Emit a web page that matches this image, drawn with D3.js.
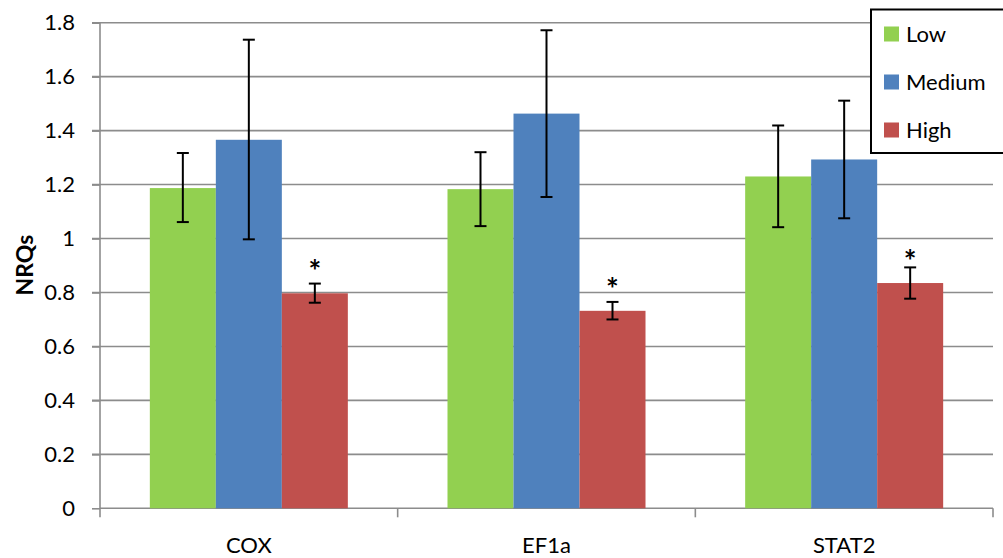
<!DOCTYPE html>
<html><head><meta charset="utf-8">
<script src="https://cdn.jsdelivr.net/npm/d3@7/dist/d3.min.js"></script>
<style>body{margin:0;background:#fff;}svg{display:block;font-family:Lato,"Open Sans",sans-serif;}</style>
</head><body>
<svg id="c" width="1003" height="558"></svg>
<script>
const categories = ["COX", "EF1a", "STAT2"];
const seriesNames = ["Low", "Medium", "High"];
const seriesColors = ["#92D050", "#4F81BD", "#C0504D"];
const lowValues = [1.187, 1.183, 1.230];
const lowErrUp = [1.317, 1.320, 1.419];
const lowErrDown = [1.061, 1.046, 1.042];
const mediumValues = [1.366, 1.463, 1.293];
const mediumErrUp = [1.737, 1.772, 1.511];
const mediumErrDown = [0.997, 1.154, 1.075];
const highValues = [0.797, 0.732, 0.835];
const highErrUp = [0.833, 0.765, 0.893];
const highErrDown = [0.762, 0.700, 0.777];
const significant = [true, true, true];
const yTicks = [0, 0.2, 0.4, 0.6, 0.8, 1, 1.2, 1.4, 1.6, 1.8];
const yTickLabels = ["0", "0.2", "0.4", "0.6", "0.8", "1", "1.2", "1.4", "1.6", "1.8"];

const series = [
  {name: seriesNames[0], color: seriesColors[0], v: lowValues, up: lowErrUp, dn: lowErrDown},
  {name: seriesNames[1], color: seriesColors[1], v: mediumValues, up: mediumErrUp, dn: mediumErrDown},
  {name: seriesNames[2], color: seriesColors[2], v: highValues, up: highErrUp, dn: highErrDown}
];

const svg = d3.select("#c");
const L = 100, R = 993, T = 22.7, B = 508.3;
const y = d3.scaleLinear().domain([0, 1.8]).range([B, T]);
const x0 = d3.scaleBand().domain(categories).range([L, R]).paddingInner(0).paddingOuter(0);
const x1 = d3.scaleBand().domain(seriesNames).range([0, x0.bandwidth()]).paddingInner(0).paddingOuter(0.755);

// gridlines
svg.append("g").selectAll("line").data(yTicks.slice(1)).join("line")
  .attr("x1", L - 8).attr("x2", R).attr("y1", d => y(d)).attr("y2", d => y(d))
  .attr("stroke", "#8c8c8c").attr("stroke-width", 1.6);

// y axis
const yAxis = d3.axisLeft(y).tickValues(yTicks).tickFormat((d, i) => yTickLabels[i]).tickSize(8).tickPadding(17);
const gy = svg.append("g").attr("transform", `translate(${L},0)`).call(yAxis);
gy.select(".domain").attr("stroke", "#8c8c8c").attr("stroke-width", 1.6).attr("d", `M0,${T}V${B}`);
gy.selectAll(".tick line").attr("stroke", "#8c8c8c").attr("stroke-width", 1.6);
gy.selectAll(".tick text").attr("font-size", 22).attr("fill", "#000").attr("font-family", "Lato, sans-serif");

// x axis
const gx = svg.append("g").attr("transform", `translate(0,${B})`);
gx.append("line").attr("x1", L).attr("x2", R).attr("y1", 0).attr("y2", 0).attr("stroke", "#8c8c8c").attr("stroke-width", 1.6);
const bounds = categories.map(c => x0(c)).concat([R]);
gx.selectAll("line.tk").data(bounds).join("line").attr("class", "tk")
  .attr("x1", d => d).attr("x2", d => d).attr("y1", 0).attr("y2", 9)
  .attr("stroke", "#8c8c8c").attr("stroke-width", 1.6);
gx.selectAll("text").data(categories).join("text")
  .attr("x", d => x0(d) + x0.bandwidth() / 2).attr("y", 45)
  .attr("text-anchor", "middle").attr("font-size", 22).attr("fill", "#000").text(d => d);

// bars
const groups = svg.append("g").selectAll("g").data(series).join("g");
groups.selectAll("rect").data(s => categories.map((c, i) => ({c, s, i}))).join("rect")
  .attr("x", d => x0(d.c) + x1(d.s.name))
  .attr("width", x1.bandwidth())
  .attr("y", d => y(d.s.v[d.i]))
  .attr("height", d => y(0) - y(d.s.v[d.i]))
  .attr("fill", d => d.s.color);

// error bars
const eb = svg.append("g").attr("stroke", "#000").attr("stroke-width", 2);
series.forEach(s => {
  categories.forEach((c, i) => {
    const cx = x0(c) + x1(s.name) + x1.bandwidth() / 2;
    eb.append("line").attr("x1", cx).attr("x2", cx).attr("y1", y(s.up[i])).attr("y2", y(s.dn[i]));
    eb.append("line").attr("x1", cx - 6).attr("x2", cx + 6).attr("y1", y(s.up[i])).attr("y2", y(s.up[i]));
    eb.append("line").attr("x1", cx - 6).attr("x2", cx + 6).attr("y1", y(s.dn[i])).attr("y2", y(s.dn[i]));
  });
});

// significance stars
svg.append("g").selectAll("text").data(categories.filter((c, i) => significant[i])).join("text")
  .attr("x", c => x0(c) + x1("High") + x1.bandwidth() / 2)
  .attr("y", c => y(highValues[categories.indexOf(c)]) - 11)
  .attr("text-anchor", "middle").attr("font-size", 30).attr("font-weight", "bold").text("*");

// y label
svg.append("text").attr("transform", "translate(33,265) rotate(-90)")
  .attr("text-anchor", "middle").attr("font-size", 23).attr("font-weight", "bold").text("NRQs");

// legend
const lg = svg.append("g");
lg.append("rect").attr("x", 871).attr("y", 9.5).attr("width", 140).attr("height", 143.5)
  .attr("fill", "#fff").attr("stroke", "#000").attr("stroke-width", 2);
series.forEach((s, i) => {
  const cy = 34 + i * 48;
  lg.append("rect").attr("x", 884).attr("y", cy - 7.5).attr("width", 15).attr("height", 15).attr("fill", s.color);
  lg.append("text").attr("x", 906).attr("y", cy + 8).attr("font-size", 22).text(s.name);
});
</script>
</body></html>
